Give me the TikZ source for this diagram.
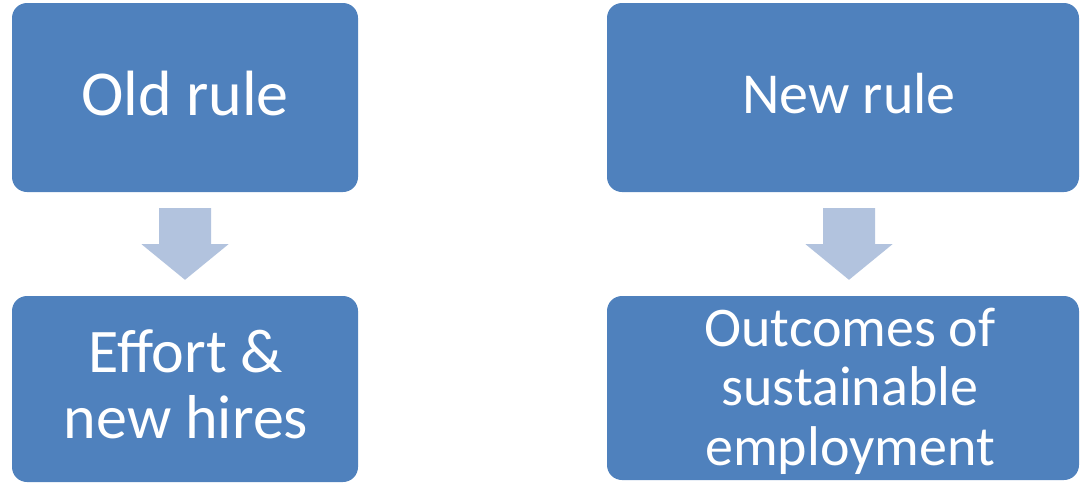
\documentclass[tikz,border=0pt]{standalone}
\usepackage{fontspec}
\setmainfont{Carlito}
\usetikzlibrary{calc}
\definecolor{boxblue}{HTML}{4F81BD}
\definecolor{arrowblue}{HTML}{B2C3DE}
\begin{document}
\begin{tikzpicture}[x=1pt,y=-1pt,
  box/.style={fill=boxblue, draw=none, rounded corners=15pt, inner sep=0pt},
  lbl/.style={text=white, align=center, inner sep=0pt},
  oldtxtstyle/.style={font=\fontsize{64}{74}\selectfont},
  newtxtstyle/.style={font=\fontsize{58}{70}\selectfont},
  midtxt/.style={font=\fontsize{62}{65.5}\selectfont},
  smalltxt/.style={font=\fontsize{56}{59.5}\selectfont},
  blockarrow/.style={fill=arrowblue, draw=none}]
\useasboundingbox (0,0) rectangle (1080,483);
% boxes
\node[box, minimum width=346pt, minimum height=189pt] (oldbox) at (185,97.5) {};
\node[box, minimum width=346pt, minimum height=186pt] (effbox) at (185,389) {};
\node[box, minimum width=472pt, minimum height=189pt] (newbox) at (843,97.5) {};
\node[box, minimum width=472pt, minimum height=184pt] (outbox) at (843,388) {};
% labels (base anchor = baseline of last line)
\node[lbl, oldtxtstyle, anchor=base] (oldtxt) at (185,115) {Old rule};
\node[lbl, newtxtstyle, anchor=base] (newtxt) at (849,113.5) {New rule};
\node[lbl, midtxt, anchor=base] (efftxt) at (186,438) {Effort \&\\new hires};
\node[lbl, smalltxt, anchor=base] (outtxt) at (850,465) {Outcomes of\\sustainable\\employment};
% block arrows
\fill[blockarrow] ($(oldbox.south)+(-26,16)$) -- ($(oldbox.south)+(26,16)$)
  -- ($(oldbox.south)+(26,52)$) -- ($(oldbox.south)+(43.5,52)$)
  -- ($(effbox.north)+(0,-16)$)
  -- ($(oldbox.south)+(-43.5,52)$) -- ($(oldbox.south)+(-26,52)$) -- cycle;
\coordinate (ntop) at ($(newbox.south)+(6,0)$);
\coordinate (nbot) at ($(outbox.north)+(6,0)$);
\fill[blockarrow] ($(ntop)+(-26,16)$) -- ($(ntop)+(26,16)$)
  -- ($(ntop)+(26,52)$) -- ($(ntop)+(43.5,52)$)
  -- ($(nbot)+(0,-16)$)
  -- ($(ntop)+(-43.5,52)$) -- ($(ntop)+(-26,52)$) -- cycle;
\end{tikzpicture}
\end{document}
